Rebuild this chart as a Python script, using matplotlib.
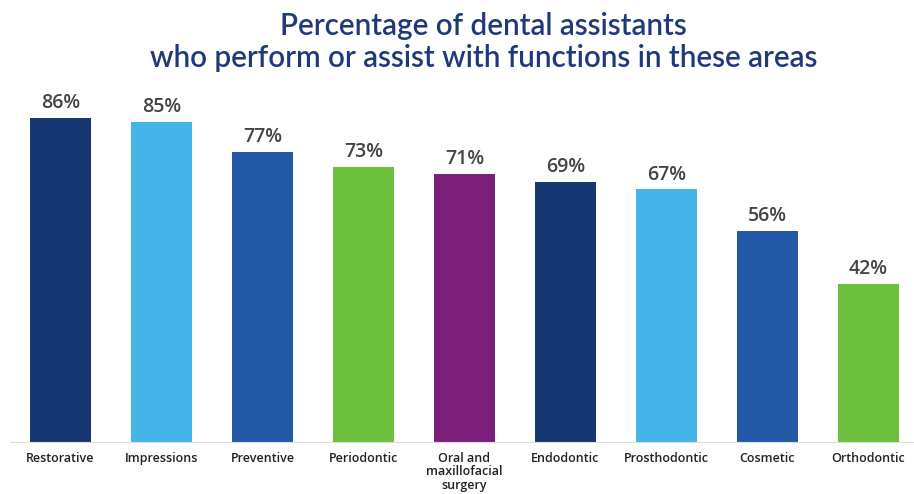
import matplotlib
matplotlib.use("Agg")
import matplotlib.pyplot as plt

categories = ["Restorative", "Impressions", "Preventive", "Periodontic",
              "Oral and\nmaxillofacial\nsurgery", "Endodontic", "Prosthodontic",
              "Cosmetic", "Orthodontic"]
values = [86, 85, 77, 73, 71, 69, 67, 56, 42]
colors = ["#173772", "#45b5e9", "#2359a6", "#6cc13c", "#7b1f7a",
          "#173772", "#45b5e9", "#2359a6", "#6cc13c"]

fig = plt.figure(figsize=(9.14, 4.94), dpi=100)
ax = fig.add_axes([10 / 914, 52 / 494, 909 / 914, 377 / 494])

x = range(len(values))
bars = ax.bar(x, values, width=0.61, color=colors)
for i, v in enumerate(values):
    ax.text(i, v + 1.3, f"{v}%", ha="center", va="bottom",
            fontsize=14, family="Open Sans", weight="semibold", color="#444444")

ax.set_xlim(-0.5, 8.5)
ax.set_ylim(0, 100)
ax.set_xticks(list(x))
ax.set_xticklabels(categories, fontsize=9, family="Open Sans", weight="semibold",
                   color="#222222", linespacing=1.05, va="top")
ax.tick_params(axis="x", length=0, pad=7)
ax.set_yticks([])
for s in ["top", "right", "left"]:
    ax.spines[s].set_visible(False)
ax.spines["bottom"].set_color("#dddddd")

fig.text(0.529, 0.975, "Percentage of dental assistants\nwho perform or assist with functions in these areas",
         ha="center", va="top", fontsize=21.3, family="Lato", weight="semibold",
         color="#1f3a7a", linespacing=1.17)

fig.savefig("out.png", dpi=100)
